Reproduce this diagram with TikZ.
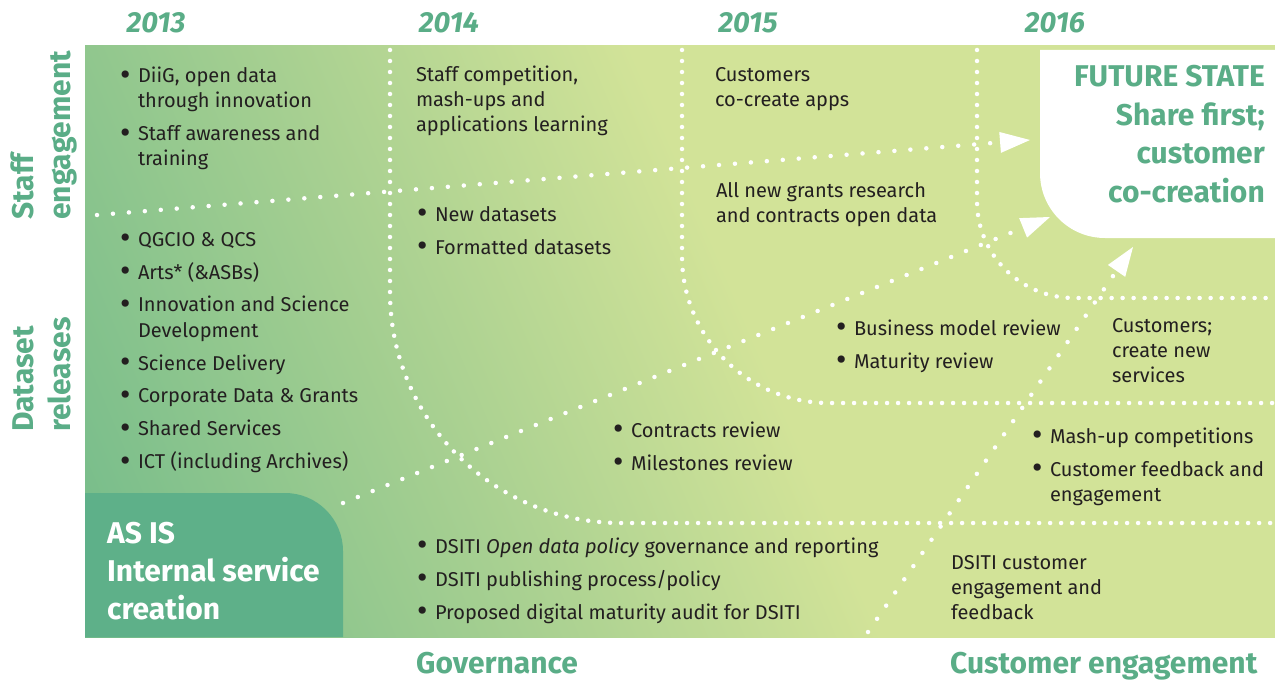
\documentclass[tikz,border=0pt]{standalone}
\usepackage{fontspec}
\setmainfont{Fira Sans}
\usetikzlibrary{calc}
\definecolor{tgreen}{RGB}{90,173,135}
\definecolor{asisgreen}{RGB}{94,176,137}
\definecolor{txt}{RGB}{35,31,32}
\definecolor{gA}{RGB}{112,186,138}
\definecolor{gB}{RGB}{168,208,145}
\definecolor{gC}{RGB}{210,227,152}
\pgfdeclarehorizontalshading{bgshade}{100bp}{color(0bp)=(gA); color(28.75bp)=(gA); color(42.2bp)=(gB); color(52.2bp)=(gC); color(100bp)=(gC)}
\newcommand\blk[1]{\begin{tabular}[t]{@{}l@{}}#1\end{tabular}}
\newcommand\rblk[1]{\begin{tabular}[t]{@{}r@{}}#1\end{tabular}}
\newcommand\bl{\makebox[18pt][l]{\raisebox{-2.2pt}{\scalebox{1.6}{\textbullet}}}}
\newcommand\ind{\hspace*{18pt}}
\tikzset{
  body/.style={anchor=base west, inner sep=0pt, outer sep=0pt, text=txt, font=\fontsize{20}{25}\selectfont},
  yearlbl/.style={anchor=base, inner sep=0pt, text=tgreen, font=\bfseries\itshape\fontsize{29}{30}\selectfont},
  axislbl/.style={anchor=base west, inner sep=0pt, text=tgreen, font=\bfseries\fontsize{30}{37}\selectfont},
  asislbl/.style={anchor=base west, inner sep=0pt, text=white, font=\bfseries\fontsize{30}{38}\selectfont},
  futurelbl/.style={anchor=base east, inner sep=0pt, text=tgreen, font=\bfseries\fontsize{30}{38.5}\selectfont},
  dotsA/.style={draw=white, line width=4.5pt, line cap=round, dash pattern=on 0pt off 11pt},
  dotsB/.style={draw=white, line width=4.5pt, line cap=round, dash pattern=on 0pt off 16pt},
  ahead/.style={fill=white},
}
\begin{document}
\begin{tikzpicture}[x=1pt,y=-1pt]
\useasboundingbox (0,0) rectangle (1275,682);
\fill[white] (0,0) rectangle (1275,682);
% background gradient
\begin{scope}
  \clip (85,46) rectangle (1275,637);
  \begin{scope}[transform canvas={rotate around={23:(680,342)}}]
    \shade[shading=bgshade] (-120,-458) rectangle (1480,1142);
  \end{scope}
\end{scope}
% AS IS box
\fill[asisgreen] (85,637) -- (85,493) -- (285,493) .. controls (317,493) and (343,519) .. (343,551) -- (343,637) -- cycle;
% future state box
\fill[white] (1040,50) -- (1275,50) -- (1275,238) -- (1105,238) .. controls (1069,238) and (1040,209) .. (1040,173) -- cycle;
% dotted arcs
\coordinate (v1s) at (390,50);
\coordinate (v1e) at (1275,523);
\draw[dotsA] (v1s) -- (390,292) .. controls (390,419.6) and (493.4,523) .. (621,523) -- (v1e);
\coordinate (v2s) at (682,50);
\coordinate (v2e) at (1275,403);
\draw[dotsA] (v2s) -- (682,256) .. controls (682,337.2) and (747.8,403) .. (829,403) -- (v2e);
\coordinate (v3s) at (977,50);
\coordinate (v3e) at (1275,298);
\draw[dotsA] (v3s) -- (977,201) .. controls (977,254.6) and (1020.4,298) .. (1074,298) -- (v3e);
% arrows
\coordinate (h1s) at (97,215);
\coordinate (h1t) at (1030,140);
\coordinate (h1b) at ($(h1t)!30pt!(h1s)$);
\draw[dotsB] (h1s) -- ($(h1t)!35pt!(h1s)$);
\fill[ahead] (h1t) -- ($(h1b)!10.5pt!90:(h1t)$) -- ($(h1b)!10.5pt!-90:(h1t)$) -- cycle;
\coordinate (d1s) at (343,503);
\coordinate (d1t) at (1050,217);
\coordinate (d1b) at ($(d1t)!29pt!(d1s)$);
\draw[dotsB] (d1s) -- ($(d1t)!34pt!(d1s)$);
\fill[ahead] (d1t) -- ($(d1b)!10.5pt!90:(d1t)$) -- ($(d1b)!10.5pt!-90:(d1t)$) -- cycle;
\coordinate (d2s) at (868,632);
\coordinate (d2t) at (1133,247);
\coordinate (d2b) at ($(d2t)!29pt!(d2s)$);
\draw[dotsB] (d2s) -- ($(d2t)!34pt!(d2s)$);
\fill[ahead] (d2t) -- ($(d2b)!10.5pt!90:(d2t)$) -- ($(d2b)!10.5pt!-90:(d2t)$) -- cycle;
% years
\node[yearlbl] (y13) at (156,33) {2013};
\node[yearlbl] (y14) at (449,33) {2014};
\node[yearlbl] (y15) at (748,33) {2015};
\node[yearlbl] (y16) at (1055,33) {2016};
% axis labels
\node[axislbl, rotate=90] (staff) at (33,220) {\blk{Staff\\engagement}};
\node[axislbl, rotate=90] (dataset) at (33,432) {\blk{Dataset\\releases}};
\node[axislbl] (gov) at (416,673) {Governance};
\node[axislbl] (cust) at (950,673) {Customer engagement};
% state boxes text
\node[asislbl] (asis) at (107,543) {\blk{AS IS\\Internal service\\creation}};
\node[futurelbl] (future) at (1265,87) {\rblk{FUTURE STATE\\Share first;\\customer\\co-creation}};
% body text
\node[body] (tA) at (120,83) {\blk{\bl DiiG, open data\\\ind through innovation\\[8pt]\bl Staff awareness and\\\ind training}};
\node[body] (tB) at (120,246) {\blk{\bl QGCIO \& QCS\\[8pt]\bl Arts* (\&ASBs)\\[8pt]\bl Innovation and Science\\\ind Development\\[8pt]\bl Science Delivery\\[8pt]\bl Corporate Data \& Grants\\[8pt]\bl Shared Services\\[8pt]\bl ICT (including Archives)}};
\node[body] (tC) at (416,82) {\blk{Staff competition,\\mash-ups and\\applications learning}};
\node[body] (tD) at (417,221) {\blk{\bl New datasets\\[8pt]\bl Formatted datasets}};
\node[body] (tE) at (715,82) {\blk{Customers\\co-create apps}};
\node[body] (tF) at (716,197) {\blk{All new grants research\\and contracts open data}};
\node[body] (tG) at (836,335) {\blk{\bl Business model review\\[8pt]\bl Maturity review}};
\node[body] (tH) at (1112,332) {\blk{Customers;\\create new\\services}};
\node[body] (tI) at (613,437) {\blk{\bl Contracts review\\[8pt]\bl Milestones review}};
\node[body] (tJ) at (1032,443) {\blk{\bl Mash-up competitions\\[8pt]\bl Customer feedback and\\\ind engagement}};
\node[body] (tK) at (417,553) {\blk{\bl DSITI \textit{Open data policy} governance and reporting\\[8pt]\bl DSITI publishing process/policy\\[8pt]\bl Proposed digital maturity audit for DSITI}};
\node[body] (tL) at (951,569) {\blk{DSITI customer\\engagement and\\feedback}};
\end{tikzpicture}
\end{document}
